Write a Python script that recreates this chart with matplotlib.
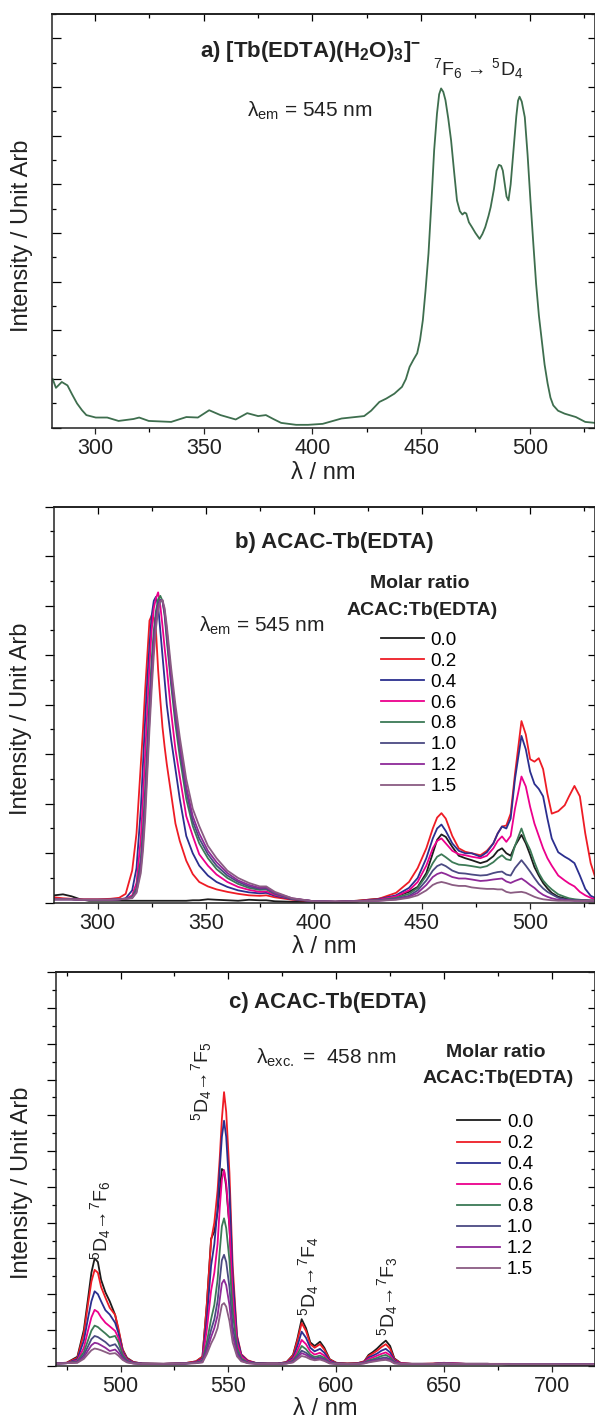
import matplotlib
matplotlib.use('Agg')
import matplotlib.pyplot as plt
from matplotlib.ticker import MultipleLocator, NullFormatter

plt.rcParams['font.family'] = ['Liberation Sans', 'DejaVu Sans']
plt.rcParams['mathtext.fontset'] = 'custom'
plt.rcParams['mathtext.rm'] = 'Liberation Sans'
plt.rcParams['mathtext.it'] = 'Liberation Sans:italic'
plt.rcParams['mathtext.bf'] = 'Liberation Sans:bold'

ratios = ['0.0', '0.2', '0.4', '0.6', '0.8', '1.0', '1.2', '1.5']
colors = ['#1c1c1c', '#ee1c25', '#2b2f8f', '#ec008c', '#3c7a56', '#4b4a82', '#8e2a98', '#8a5c82']
color_a = '#3e6e4e'

# ---- panel a: excitation spectrum of [Tb(EDTA)(H2O)3]-
wl_a = [280.5, 282, 284.7, 287.3, 289.5, 291.7, 294, 296, 300.3, 305.6, 310.8, 317.7, 320.3,
        324.7, 330, 335, 342, 347.3, 352.5, 357.7, 364.7, 370, 375, 378.6, 382, 385.6, 392.5,
        398, 404.7, 413.4, 423.8, 427, 430.8, 434, 437.7, 441.2, 443, 444.7, 446.5, 448.2,
        449.5, 450.8, 452, 453.4, 454.7, 456, 457.3, 458.3, 459.2, 460.2, 461.2, 462.5, 463.8,
        465.2, 466.5, 467.8, 469, 470, 470.8, 472, 473.4, 475, 476.9, 478.2, 479.5, 481, 482,
        483.5, 484.7, 485.8, 486.8, 487.6, 488.5, 489.3, 490.2, 491.2, 492.5, 493.8, 494.6,
        495.3, 496.3, 497.7, 499, 500.3, 501.6, 502.9, 504.2, 505.5, 506.8, 508.2, 509.5,
        510.8, 513, 516, 521.2, 525.5, 530]
int_a = [1.0, 0.82, 0.94, 0.87, 0.68, 0.5, 0.36, 0.26, 0.21, 0.21, 0.14, 0.18, 0.21,
         0.14, 0.13, 0.12, 0.22, 0.21, 0.36, 0.26, 0.17, 0.3, 0.24, 0.26, 0.18, 0.1, 0.06,
         0.06, 0.08, 0.19, 0.24, 0.35, 0.53, 0.6, 0.7, 0.84, 1.0, 1.25, 1.4, 1.53,
         1.8, 2.21, 2.8, 3.58, 4.6, 5.7, 6.45, 6.85, 6.97, 6.9, 6.73, 6.35, 5.9,
         5.25, 4.67, 4.45, 4.38, 4.42, 4.4, 4.22, 4.12, 4.0, 3.88, 3.98, 4.12, 4.35, 4.53,
         4.9, 5.28, 5.4, 5.38, 5.28, 5.0, 4.75, 4.67, 5.0, 5.7, 6.4, 6.72,
         6.8, 6.7, 6.38, 5.6, 4.67, 3.8, 2.96, 2.3, 1.8, 1.3, 0.91, 0.62,
         0.46, 0.35, 0.29, 0.22, 0.12, 0.1]

# ---- panel b: excitation spectra, ACAC-Tb(EDTA)
wl_b = [280, 284, 288, 292, 296, 300, 306, 310, 313,
        316, 318, 320,
        321, 322, 323, 324, 325, 326, 327, 328, 329, 330, 331, 332,
        334, 336, 338, 341, 344, 347, 351, 355,
        360, 365, 370, 375, 378, 382, 390, 400,
        410, 420, 430, 438, 444, 448, 452, 455,
        457, 459, 461, 464, 467, 470, 473, 477,
        480, 483, 485, 487, 489, 491, 493, 496,
        498, 500, 502, 504, 506, 508, 510, 513,
        516, 518, 520.5, 523, 525.5, 528, 530]
b_00 = [0.15, 0.17, 0.13, 0.07, 0.04, 0.04, 0.04, 0.04, 0.04,
        0.04, 0.04, 0.04,
        0.04, 0.04, 0.04, 0.04, 0.04, 0.04, 0.04, 0.04, 0.04, 0.04, 0.04, 0.04,
        0.04, 0.04, 0.04, 0.04, 0.05, 0.05, 0.07, 0.06,
        0.05, 0.04, 0.06, 0.05, 0.05, 0.03, 0.02, 0.02,
        0.02, 0.04, 0.08, 0.13, 0.22, 0.32, 0.6, 1.0,
        1.27, 1.38, 1.33, 1.13, 0.95, 0.9, 0.86, 0.8,
        0.84, 0.94, 1.05, 1.1, 1.0, 0.95, 1.15, 1.37,
        1.2, 0.97, 0.72, 0.55, 0.4, 0.29, 0.2, 0.12,
        0.09, 0.07, 0.06, 0.05, 0.05, 0.04, 0.04]
b_02 = [0.11, 0.09, 0.08, 0.07, 0.07, 0.07, 0.08, 0.10, 0.18,
        0.65, 1.4, 2.8,
        3.5, 4.3, 5.0, 5.7, 5.8, 5.75, 5.5, 4.7, 4.1, 3.55, 3.15, 2.8,
        2.2, 1.6, 1.25, 0.85, 0.58, 0.42, 0.33, 0.27,
        0.22, 0.18, 0.15, 0.14, 0.15, 0.11, 0.06, 0.03,
        0.02, 0.04, 0.08, 0.2, 0.42, 0.7, 1.1, 1.5,
        1.72, 1.81, 1.7, 1.35, 1.1, 1.03, 1.0, 0.96,
        1.05, 1.2, 1.4, 1.54, 1.56, 1.8, 2.6, 3.67,
        3.4, 2.9, 2.85, 2.92, 2.7, 2.2, 1.8, 1.85,
        1.97, 2.15, 2.36, 2.15, 1.4, 0.8, 0.53]
b_04 = [0.07, 0.07, 0.07, 0.06, 0.06, 0.06, 0.06, 0.07, 0.09,
        0.25, 0.7, 1.9,
        2.8, 3.7, 4.5, 5.2, 5.8, 6.1, 6.18, 6.0, 5.5, 5.0, 4.5, 4.0,
        3.3, 2.7, 2.1, 1.35, 1.0, 0.75, 0.55, 0.42,
        0.32, 0.25, 0.21, 0.19, 0.2, 0.14, 0.07, 0.03,
        0.02, 0.03, 0.07, 0.15, 0.3, 0.5, 0.9, 1.3,
        1.5, 1.58, 1.45, 1.2, 1.05, 1.0, 1.0, 0.93,
        1.02, 1.2, 1.4, 1.54, 1.5, 1.7, 2.5, 3.37,
        3.1, 2.65, 2.4, 2.3, 2.15, 1.7, 1.3, 1.02,
        0.93, 0.88, 0.8, 0.55, 0.28, 0.14, 0.1]
b_06 = [0.07, 0.07, 0.07, 0.06, 0.06, 0.06, 0.06, 0.07, 0.08,
        0.15, 0.4, 1.3,
        2.1, 3.0, 3.9, 4.8, 5.5, 5.95, 6.15, 6.27, 6.0, 5.6, 5.15, 4.75,
        3.85, 3.1, 2.55, 1.75, 1.35, 0.98, 0.75, 0.57,
        0.42, 0.32, 0.26, 0.22, 0.23, 0.16, 0.08, 0.03,
        0.02, 0.03, 0.06, 0.13, 0.25, 0.42, 0.75, 1.1,
        1.25, 1.3, 1.2, 1.05, 0.98, 0.96, 0.93, 0.9,
        0.95, 1.1, 1.25, 1.34, 1.23, 1.35, 1.9, 2.55,
        2.35, 1.94, 1.6, 1.35, 1.1, 0.9, 0.75, 0.55,
        0.45, 0.39, 0.33, 0.22, 0.15, 0.1, 0.07]
b_08 = [0.07, 0.07, 0.07, 0.06, 0.06, 0.06, 0.06, 0.07, 0.08,
        0.12, 0.3, 0.9,
        1.5, 2.3, 3.2, 4.1, 4.9, 5.5, 5.9, 6.12, 6.2, 6.1, 5.8, 5.3,
        4.4, 3.6, 2.95, 2.1, 1.55, 1.2, 0.9, 0.68,
        0.5, 0.38, 0.3, 0.26, 0.27, 0.18, 0.08, 0.03,
        0.02, 0.03, 0.05, 0.1, 0.18, 0.3, 0.55, 0.8,
        0.93, 0.98, 0.92, 0.82, 0.77, 0.76, 0.74, 0.71,
        0.74, 0.82, 0.9, 0.96, 0.88, 0.86, 1.15, 1.5,
        1.25, 1.07, 0.82, 0.6, 0.45, 0.35, 0.27, 0.17,
        0.12, 0.09, 0.07, 0.06, 0.05, 0.05, 0.05]
b_10 = [0.07, 0.07, 0.07, 0.06, 0.06, 0.06, 0.06, 0.07, 0.08,
        0.1, 0.25, 0.8,
        1.35, 2.1, 3.0, 3.9, 4.7, 5.35, 5.8, 6.05, 6.12, 6.1, 5.85, 5.4,
        4.5, 3.75, 3.1, 2.25, 1.65, 1.3, 0.98, 0.75,
        0.55, 0.42, 0.33, 0.28, 0.29, 0.19, 0.08, 0.03,
        0.02, 0.03, 0.05, 0.08, 0.14, 0.25, 0.45, 0.65,
        0.74, 0.78, 0.74, 0.65, 0.6, 0.59, 0.57, 0.55,
        0.56, 0.6, 0.62, 0.63, 0.57, 0.55, 0.7, 0.86,
        0.75, 0.63, 0.5, 0.38, 0.29, 0.22, 0.17, 0.1,
        0.07, 0.06, 0.05, 0.05, 0.05, 0.04, 0.04]
b_12 = [0.07, 0.07, 0.07, 0.06, 0.06, 0.06, 0.06, 0.07, 0.08,
        0.1, 0.22, 0.7,
        1.2, 1.9, 2.8, 3.7, 4.5, 5.2, 5.7, 6.0, 6.1, 6.1, 5.9, 5.5,
        4.6, 3.85, 3.2, 2.35, 1.75, 1.4, 1.05, 0.82,
        0.6, 0.45, 0.36, 0.3, 0.31, 0.2, 0.09, 0.03,
        0.02, 0.03, 0.04, 0.07, 0.12, 0.2, 0.36, 0.52,
        0.58, 0.61, 0.58, 0.52, 0.49, 0.49, 0.47, 0.44,
        0.45, 0.47, 0.48, 0.49, 0.43, 0.4, 0.44, 0.49,
        0.43, 0.36, 0.3, 0.22, 0.16, 0.12, 0.09, 0.06,
        0.05, 0.05, 0.04, 0.04, 0.04, 0.04, 0.04]
b_15 = [0.07, 0.07, 0.07, 0.06, 0.06, 0.06, 0.06, 0.07, 0.08,
        0.09, 0.2, 0.6,
        1.05, 1.7, 2.6, 3.5, 4.3, 5.0, 5.55, 5.9, 6.08, 6.12, 5.95, 5.6,
        4.75, 4.0, 3.35, 2.5, 1.9, 1.55, 1.15, 0.9,
        0.65, 0.5, 0.4, 0.33, 0.33, 0.22, 0.09, 0.03,
        0.02, 0.03, 0.04, 0.06, 0.1, 0.15, 0.25, 0.36,
        0.4, 0.42, 0.4, 0.36, 0.34, 0.34, 0.31, 0.29,
        0.28, 0.28, 0.27, 0.27, 0.22, 0.2, 0.21, 0.22,
        0.2, 0.16, 0.12, 0.09, 0.07, 0.06, 0.05, 0.04,
        0.04, 0.04, 0.04, 0.04, 0.04, 0.04, 0.04]

# ---- panel c: emission spectra, ACAC-Tb(EDTA)
wl_c = [470, 475, 480, 483, 485, 486.5, 488, 489.5, 491, 493,
        495, 497.5, 499, 501, 503, 506, 510, 520, 530, 535,
        538, 540, 542, 543.5, 545, 546, 547, 548, 549, 550.5,
        552, 554, 556, 559, 563, 568, 573, 577, 580, 582,
        584, 586, 588, 590, 592.5, 594.5, 597, 600, 605, 610,
        613, 615, 617, 619, 621, 623, 625, 627, 630, 635,
        640, 645, 650, 655, 660, 670, 680, 690, 700, 710, 720]
c_00 = [0.07, 0.08, 0.25, 1.0, 1.9, 2.6, 3.0, 2.9, 2.4, 2.05,
        1.8, 1.42, 1.0, 0.45, 0.22, 0.1, 0.06, 0.05, 0.07, 0.12,
        0.25, 1.7, 3.55, 3.75, 4.3, 4.9, 5.5, 5.45, 5.0, 3.9,
        2.0, 0.65, 0.27, 0.13, 0.07, 0.06, 0.06, 0.1, 0.3, 0.75,
        1.3, 1.05, 0.65, 0.55, 0.67, 0.5, 0.18, 0.08, 0.06, 0.07,
        0.12, 0.3, 0.38, 0.48, 0.6, 0.7, 0.55, 0.2, 0.07, 0.05,
        0.05, 0.05, 0.07, 0.06, 0.05, 0.05, 0.04, 0.04, 0.04, 0.03, 0.03]
c_02 = [0.07, 0.08, 0.22, 0.9, 1.75, 2.35, 2.68, 2.6, 2.2, 1.9,
        1.62, 1.42, 1.05, 0.45, 0.2, 0.1, 0.06, 0.05, 0.07, 0.12,
        0.25, 1.7, 3.5, 4.0, 4.9, 5.8, 6.9, 7.65, 7.1, 5.4,
        2.8, 0.85, 0.32, 0.15, 0.07, 0.06, 0.06, 0.1, 0.28, 0.7,
        1.19, 0.97, 0.6, 0.5, 0.6, 0.45, 0.17, 0.08, 0.06, 0.07,
        0.12, 0.27, 0.34, 0.42, 0.52, 0.6, 0.47, 0.18, 0.07, 0.05,
        0.05, 0.06, 0.08, 0.06, 0.05, 0.05, 0.05, 0.04, 0.04, 0.03, 0.03]
c_04 = [0.06, 0.07, 0.18, 0.7, 1.35, 1.8, 2.08, 2.0, 1.8, 1.55,
        1.43, 1.2, 0.92, 0.4, 0.18, 0.09, 0.06, 0.05, 0.06, 0.1,
        0.2, 1.3, 2.8, 3.4, 4.4, 5.5, 6.4, 6.85, 6.4, 4.9,
        2.5, 0.8, 0.3, 0.13, 0.07, 0.06, 0.06, 0.09, 0.22, 0.55,
        0.95, 0.78, 0.5, 0.4, 0.47, 0.36, 0.14, 0.07, 0.05, 0.06,
        0.1, 0.23, 0.28, 0.34, 0.42, 0.47, 0.37, 0.15, 0.06, 0.05,
        0.05, 0.05, 0.07, 0.06, 0.05, 0.05, 0.04, 0.04, 0.04, 0.03, 0.03]
c_06 = [0.06, 0.07, 0.14, 0.5, 1.0, 1.35, 1.56, 1.5, 1.35, 1.2,
        1.1, 0.97, 0.78, 0.35, 0.16, 0.08, 0.05, 0.05, 0.06, 0.09,
        0.17, 1.0, 2.1, 2.6, 3.4, 4.4, 5.2, 5.47, 5.1, 3.9,
        2.0, 0.65, 0.26, 0.11, 0.06, 0.05, 0.05, 0.08, 0.18, 0.42,
        0.72, 0.6, 0.4, 0.31, 0.36, 0.28, 0.11, 0.06, 0.05, 0.05,
        0.09, 0.19, 0.23, 0.28, 0.33, 0.37, 0.29, 0.12, 0.06, 0.05,
        0.05, 0.05, 0.07, 0.06, 0.05, 0.05, 0.04, 0.04, 0.04, 0.03, 0.03]
c_08 = [0.06, 0.07, 0.12, 0.38, 0.72, 0.98, 1.12, 1.08, 1.0, 0.9,
        0.79, 0.83, 0.66, 0.3, 0.14, 0.07, 0.05, 0.05, 0.06, 0.08,
        0.14, 0.65, 1.3, 1.7, 2.4, 3.2, 3.9, 4.12, 3.85, 2.95,
        1.5, 0.5, 0.2, 0.09, 0.06, 0.05, 0.05, 0.07, 0.14, 0.32,
        0.55, 0.46, 0.31, 0.24, 0.28, 0.22, 0.09, 0.06, 0.05, 0.05,
        0.08, 0.15, 0.18, 0.22, 0.27, 0.3, 0.23, 0.1, 0.05, 0.05,
        0.05, 0.05, 0.06, 0.05, 0.05, 0.05, 0.04, 0.04, 0.04, 0.03, 0.03]
c_10 = [0.06, 0.07, 0.1, 0.3, 0.55, 0.74, 0.83, 0.8, 0.74, 0.66,
        0.55, 0.6, 0.48, 0.24, 0.12, 0.07, 0.05, 0.05, 0.06, 0.08,
        0.12, 0.5, 1.0, 1.3, 1.8, 2.4, 2.95, 3.1, 2.9, 2.2,
        1.1, 0.4, 0.16, 0.08, 0.06, 0.05, 0.05, 0.07, 0.12, 0.26,
        0.42, 0.36, 0.26, 0.2, 0.23, 0.18, 0.08, 0.05, 0.05, 0.05,
        0.07, 0.12, 0.15, 0.18, 0.21, 0.23, 0.18, 0.08, 0.05, 0.05,
        0.05, 0.05, 0.06, 0.05, 0.05, 0.05, 0.04, 0.04, 0.04, 0.03, 0.03]
c_12 = [0.06, 0.07, 0.09, 0.24, 0.43, 0.57, 0.64, 0.62, 0.57, 0.5,
        0.41, 0.45, 0.36, 0.2, 0.1, 0.06, 0.05, 0.05, 0.06, 0.07,
        0.1, 0.4, 0.8, 1.05, 1.4, 1.85, 2.3, 2.4, 2.25, 1.7,
        0.85, 0.32, 0.14, 0.07, 0.05, 0.05, 0.05, 0.06, 0.1, 0.22,
        0.35, 0.3, 0.22, 0.17, 0.2, 0.15, 0.07, 0.05, 0.05, 0.05,
        0.07, 0.1, 0.13, 0.15, 0.17, 0.19, 0.15, 0.07, 0.05, 0.05,
        0.05, 0.05, 0.06, 0.05, 0.05, 0.05, 0.04, 0.04, 0.04, 0.03, 0.03]
c_15 = [0.06, 0.07, 0.08, 0.19, 0.33, 0.43, 0.48, 0.46, 0.43, 0.38,
        0.33, 0.35, 0.28, 0.16, 0.09, 0.06, 0.05, 0.05, 0.06, 0.07,
        0.09, 0.32, 0.62, 0.8, 1.05, 1.38, 1.7, 1.75, 1.65, 1.25,
        0.65, 0.26, 0.12, 0.07, 0.05, 0.05, 0.05, 0.06, 0.09, 0.18,
        0.27, 0.24, 0.18, 0.15, 0.17, 0.13, 0.06, 0.05, 0.05, 0.05,
        0.06, 0.09, 0.11, 0.13, 0.15, 0.16, 0.13, 0.06, 0.05, 0.05,
        0.05, 0.05, 0.06, 0.05, 0.05, 0.05, 0.04, 0.04, 0.04, 0.03, 0.03]

series_b = [b_00, b_02, b_04, b_06, b_08, b_10, b_12, b_15]
series_c = [c_00, c_02, c_04, c_06, c_08, c_10, c_12, c_15]

LW = 1.3


def style_axes(ax, xlim, ylim, left_dir, xlab_y, ylab_x):
    ax.set_xlim(*xlim)
    ax.set_ylim(*ylim)
    ax.xaxis.set_major_locator(MultipleLocator(50))
    ax.xaxis.set_minor_locator(MultipleLocator(25))
    ax.yaxis.set_major_locator(MultipleLocator(1))
    ax.yaxis.set_minor_locator(MultipleLocator(0.5))
    ax.yaxis.set_major_formatter(NullFormatter())
    ax.tick_params(axis='x', which='major', direction='out', length=4.5, width=0.9,
                   labelsize=15.5, pad=3, colors='#222222')
    ax.tick_params(axis='x', which='minor', direction='out', length=3, width=0.9)
    ax.tick_params(axis='y', which='major', direction=left_dir, length=6.5, width=0.9)
    ax.tick_params(axis='y', which='minor', direction=left_dir, length=3, width=0.9)
    for sp in ax.spines.values():
        sp.set_linewidth(1.1)
        sp.set_color('#222222')
    top = ax.secondary_xaxis('top')
    top.xaxis.set_major_locator(MultipleLocator(50))
    top.xaxis.set_minor_locator(MultipleLocator(25))
    top.xaxis.set_major_formatter(NullFormatter())
    top.tick_params(which='major', direction='in', length=5, width=0.9)
    top.tick_params(which='minor', direction='in', length=3, width=0.9)
    top.spines['top'].set_linewidth(1.1)
    right = ax.secondary_yaxis('right')
    right.yaxis.set_major_locator(MultipleLocator(1))
    right.yaxis.set_minor_locator(MultipleLocator(0.5))
    right.yaxis.set_major_formatter(NullFormatter())
    right.tick_params(which='major', direction='in', length=5, width=0.9)
    right.tick_params(which='minor', direction='in', length=3, width=0.9)
    ax.set_xlabel('λ / nm', fontsize=17, va='center', color='#222222')
    ax.xaxis.set_label_coords(0.5, xlab_y)
    ax.set_ylabel('Intensity / Unit Arb', fontsize=17, va='center', color='#222222')
    ax.yaxis.set_label_coords(ylab_x, 0.464)


def molar_legend(ax, lines, x_title, y1, y2, anchor, spacing):
    ax.text(x_title, y1, 'Molar ratio', transform=ax.transAxes, ha='center',
            fontsize=14, fontweight='bold', color='#222222')
    ax.text(x_title + 0.005, y2, 'ACAC:Tb(EDTA)', transform=ax.transAxes, ha='center',
            fontsize=14, fontweight='bold', color='#222222')
    ax.legend(lines, ratios, loc='upper left', bbox_to_anchor=anchor, frameon=False,
              fontsize=13.5, handlelength=2.3, handletextpad=0.35, labelspacing=spacing,
              borderpad=0, borderaxespad=0)


fig = plt.figure(figsize=(5.95, 14.23), dpi=100)

# panel a
ax_a = fig.add_axes([0.0867, 0.6994, 0.9133, 0.2908])
ax_a.plot(wl_a, int_a, color=color_a, lw=LW)
style_axes(ax_a, (280, 530), (0, 8.5), 'in', -0.109, -0.054)
ax_a.text(0.477, 0.897, r'a) [Tb(EDTA)(H$_\mathbf{2}$O)$_\mathbf{3}$]$^\mathbf{-}$',
          transform=ax_a.transAxes, ha='center', fontsize=16, fontweight='bold', color='#222222')
ax_a.text(0.359, 0.751, r'λ$_{\rm em}$ = 545 nm', transform=ax_a.transAxes,
          fontsize=15, color='#222222')
ax_a.text(0.702, 0.8526, r'$^7$F$_6$ → $^5$D$_4$', transform=ax_a.transAxes,
          fontsize=14, color='#222222')

# panel b
ax_b = fig.add_axes([0.0913, 0.3656, 0.9087, 0.2783])
lines_b = []
for ys, col in zip(series_b, colors):
    ln, = ax_b.plot(wl_b, ys, color=col, lw=LW)
    lines_b.append(ln)
style_axes(ax_b, (280, 530), (0, 8), 'out', -0.111, -0.061)
ax_b.text(0.518, 0.895, 'b) ACAC-Tb(EDTA)', transform=ax_b.transAxes, ha='center',
          fontsize=16, fontweight='bold', color='#222222')
ax_b.text(0.268, 0.684, r'λ$_{\rm em}$ = 545 nm', transform=ax_b.transAxes,
          fontsize=15, color='#222222')
molar_legend(ax_b, lines_b, 0.675, 0.794, 0.7265, (0.604, 0.684), 0.2)

# panel c
ax_c = fig.add_axes([0.0938, 0.0403, 0.9062, 0.2764])
lines_c = []
for ys, col in zip(series_c, colors):
    ln, = ax_c.plot(wl_c, ys, color=col, lw=LW)
    lines_c.append(ln)
style_axes(ax_c, (470, 720), (0, 11), 'out', -0.111, -0.063)
ax_c.text(0.505, 0.9085, 'c) ACAC-Tb(EDTA)', transform=ax_c.transAxes, ha='center',
          fontsize=16, fontweight='bold', color='#222222')
ax_c.text(0.372, 0.7687, r'λ$_{\rm exc.}$ =  458 nm', transform=ax_c.transAxes,
          fontsize=15, color='#222222')
molar_legend(ax_c, lines_c, 0.815, 0.7855, 0.718, (0.7446, 0.640), 0.21)
for lab, xf, yf in [(r'$^5$D$_4$→$^7$F$_6$', 0.0833, 0.370),
                    (r'$^5$D$_4$→$^7$F$_5$', 0.271, 0.7237),
                    (r'$^5$D$_4$→$^7$F$_4$', 0.4696, 0.228),
                    (r'$^5$D$_4$→$^7$F$_3$', 0.616, 0.177)]:
    ax_c.text(xf, yf, lab, transform=ax_c.transAxes, rotation=90, ha='center', va='center',
              fontsize=14, color='#222222')

fig.savefig('out.png', dpi=100)
